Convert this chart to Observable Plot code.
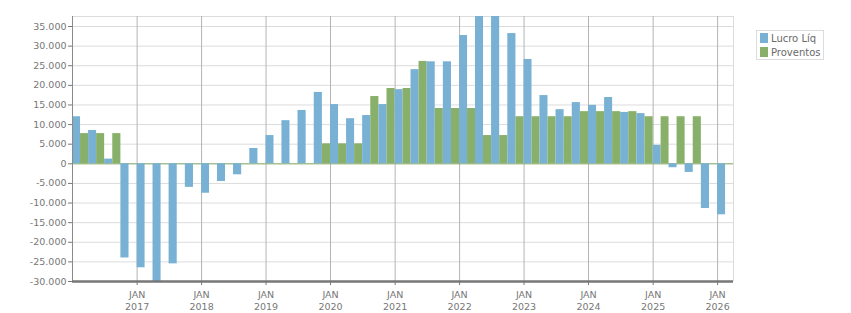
<!DOCTYPE html>
<html>
<head>
<meta charset="utf-8">
<script src="https://cdn.jsdelivr.net/npm/d3@7"></script>
<script src="https://cdn.jsdelivr.net/npm/@observablehq/plot@0.6"></script>
<style>
  body { margin: 0; background: #fff; }
  #wrap { position: relative; width: 851px; height: 313px; font-family: "DejaVu Sans", sans-serif; }
  #legend { position: absolute; left: 756px; top: 30px; width: 66px; height: 28px; border: 1px solid #dcdcdc; background: #fff; font-size: 10px; color: #6a6a6a; }
  .item { position: absolute; left: 3px; height: 12px; line-height: 12px; white-space: nowrap; }
  .sw { display: inline-block; width: 8px; height: 10px; vertical-align: -1px; margin-right: 3px; }
</style>
</head>
<body>
<div id="wrap">
  <div id="chart"></div>
  <div id="legend"></div>
</div>
<script>
const quarters = [
  "2016-01","2016-04","2016-07","2016-10",
  "2017-01","2017-04","2017-07","2017-10",
  "2018-01","2018-04","2018-07","2018-10",
  "2019-01","2019-04","2019-07","2019-10",
  "2020-01","2020-04","2020-07","2020-10",
  "2021-01","2021-04","2021-07","2021-10",
  "2022-01","2022-04","2022-07","2022-10",
  "2023-01","2023-04","2023-07","2023-10",
  "2024-01","2024-04","2024-07","2024-10",
  "2025-01","2025-04","2025-07","2025-10",
  "2026-01"
];
const lucroLiq = [
  12000, 8500, 1200, -24000,
  -26500, -30000, -25500, -6000,
  -7500, -4500, -2800, 3900,
  7200, 11000, 13600, 18200,
  15100, 11500, 12300, 15100,
  18900, 24000, 26000, 26000,
  32700, 38000, 38000, 33200,
  26600, 17400, 13800, 15600,
  14900, 16900, 13100, 12800,
  4700, -1000, -2200, -11400,
  -13000
];
const proventos = [
  7700, 7700, 7700, 0,
  0, 0, 0, 0,
  0, 0, 0, 0,
  0, 0, 0, 5100,
  5100, 5100, 17150, 19200,
  19200, 26100, 14100, 14100,
  14100, 7200, 7200, 12000,
  12000, 12000, 12000, 13300,
  13300, 13300, 13300, 12000,
  12000, 12000, 12000, 0,
  0
];
const seriesNames = ["Lucro Líq", "Proventos"];
const seriesColors = ["#78b1d4", "#88b06a"];
const yTicks = [-30000,-25000,-20000,-15000,-10000,-5000,0,5000,10000,15000,20000,25000,30000,35000];
const yearTicks = ["2017","2018","2019","2020","2021","2022","2023","2024","2025","2026"];
const yDomain = [-30000, 37550];
const xDomain = ["2016-01-01", "2026-04-01"];

const parseQ = s => new Date(s + "-01T00:00:00Z");
const rows = [];
quarters.forEach((q, i) => {
  const start = parseQ(q);
  const end = d3.utcMonth.offset(start, 3);
  const mid = new Date((+start + +end) / 2);
  rows.push({series: seriesNames[0], x1: start, x2: mid, value: lucroLiq[i]});
  rows.push({series: seriesNames[1], x1: mid, x2: end, value: proventos[i]});
});

const loc = d3.formatLocale({decimal: ",", thousands: ".", grouping: [3], currency: ["", ""], minus: "-"});
const fmt = loc.format(",d");
const yearDates = yearTicks.map(y => new Date(y + "-01-01T00:00:00Z"));
const xd = xDomain.map(s => new Date(s + "T00:00:00Z"));

const chart = Plot.plot({
  width: 851,
  height: 313,
  marginLeft: 72,
  marginRight: 118,
  marginTop: 16,
  marginBottom: 32,
  style: {fontFamily: "'DejaVu Sans', sans-serif", fontSize: "9.5px", color: "#707070", background: "#fff"},
  x: {type: "utc", domain: xd},
  y: {domain: yDomain},
  color: {domain: seriesNames, range: seriesColors},
  marks: [
    Plot.gridY(yTicks, {stroke: "#dcdcdc", strokeOpacity: 1}),
    Plot.ruleY([yDomain[1]], {stroke: "#dcdcdc"}),
    Plot.gridX(yearDates, {stroke: "#b4b4b4", strokeOpacity: 1}),
    Plot.ruleX([xd[1]], {stroke: "#dcdcdc"}),
    Plot.ruleY([0], {stroke: seriesColors[1]}),
    Plot.rect(rows, {x1: "x1", x2: "x2", y1: 0, y2: "value", fill: "series", clip: true}),
    Plot.ruleX([xd[0]], {stroke: "#8a8a8a"}),
    Plot.ruleY([yDomain[0]], {stroke: "#777", strokeWidth: 2.5}),
    Plot.axisY(yTicks, {tickSize: 4, tickPadding: 2, tickFormat: fmt, label: null, color: "#777"}),
    Plot.axisX(yearDates, {tickSize: 4, tickPadding: 3, tickFormat: d => "JAN\n" + d.getUTCFullYear(), label: null, color: "#777", lineHeight: 1.35})
  ]
});
document.getElementById("chart").appendChild(chart);

const legend = document.getElementById("legend");
seriesNames.forEach((name, i) => {
  const div = document.createElement("div");
  div.className = "item";
  div.style.top = (2 + i * 14) + "px";
  const sw = document.createElement("span");
  sw.className = "sw";
  sw.style.background = seriesColors[i];
  div.appendChild(sw);
  div.appendChild(document.createTextNode(name));
  legend.appendChild(div);
});
</script>
</body>
</html>
